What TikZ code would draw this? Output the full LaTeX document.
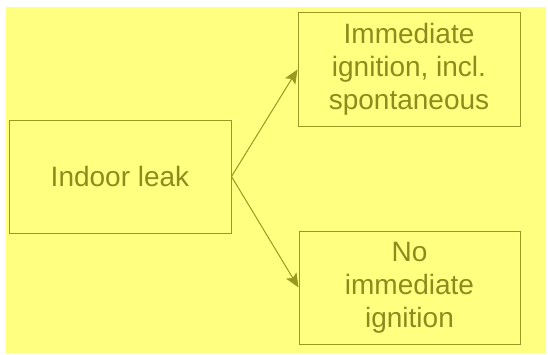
\documentclass[tikz,border=0pt]{standalone}
\usepackage{fontspec}
\setmainfont{Liberation Sans}
\usepackage{xcolor}
\usetikzlibrary{
  arrows.meta
}

\definecolor{sheet}{RGB}{255,255,128}
\definecolor{olive}{RGB}{153,153,34}
\definecolor{olivetext}{RGB}{140,140,30}

\begin{document}
\begin{tikzpicture}[
          x=1pt,y=1pt,
          eventbox/.style={
              draw=olive,
              line width=1pt,
              minimum width=222pt,
              minimum height=113pt,
              align=center,
              text=olivetext,
              font=\fontsize{28}{33}\selectfont
            },branch/.style={
              draw=olive,
              line width=1pt,
              -{Stealth[length=14pt,width=12pt,inset=3pt]}
            }
        ]
        % 図の範囲と背景
        \useasboundingbox (0,0) rectangle (548,354);
        \fill[sheet] (6,1) rectangle (546,347);

        % 事象の箱
        \node[eventbox] (leak) at (120,177.5) {Indoor leak};
        \node[eventbox] (ignition) at (409,284.5) {Immediate\\ignition, incl.\\spontaneous};
        \node[eventbox,minimum width=221pt] (noignition) at (409.5,66.5) {No\\immediate\\ignition};

        % 分岐の矢印
        \draw[branch] (leak.east) -- (ignition.west);
        \draw[branch] (leak.east) -- (noignition.west);

      \end{tikzpicture}
\end{document}
